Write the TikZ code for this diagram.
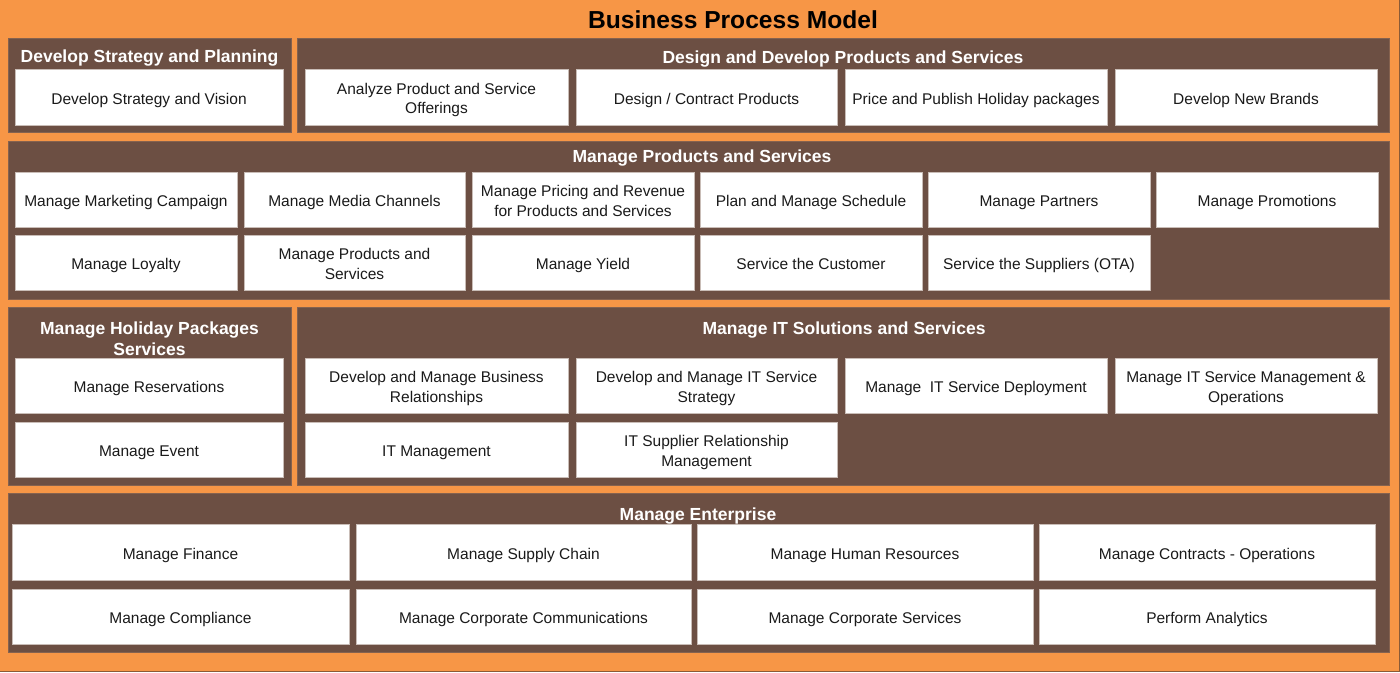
\documentclass[tikz,border=0pt]{standalone}
\usepackage{fontspec}
\setmainfont{Liberation Sans}
\definecolor{bgorange}{HTML}{F79646}
\definecolor{panelbrown}{HTML}{6C4F43}
\definecolor{paneledge}{HTML}{85624F}
\definecolor{boxedge}{HTML}{C9BDB7}
\definecolor{framedge}{HTML}{8A5A36}
\definecolor{tasktext}{HTML}{1A1A1A}

% struts fixing the first-line height and the last-line depth of task labels
\newcommand{\topstrut}{\rule{0pt}{18pt}}
\newcommand{\botstrut}{\rule[-4pt]{0pt}{4pt}}

\tikzset{
  panel/.style={fill=panelbrown, draw=paneledge, line width=0.8pt},
  paneltitle/.style={text=white, font=\bfseries\fontsize{17.5}{21.7}\selectfont, align=center, inner sep=0pt},
  task/.style={fill=white, draw=boxedge, line width=0.8pt, inner sep=0pt, outer sep=0pt,
    align=center, text=tasktext, font=\fontsize{15.5}{19.5}\selectfont},
}

% \procbox{name}{x1}{y1}{x2}{y2}{text}
\newcommand{\procbox}[6]{%
  \node[task, minimum width={#4pt-#2pt}, minimum height={#5pt-#3pt}]
    (#1) at ({(#2+#4)/2},{(#3+#5)/2}) {\topstrut#6\botstrut};}
% \procpanel{name}{x1}{y1}{x2}{y2}
\newcommand{\procpanel}[5]{%
  \path[panel] (#2,#3) rectangle (#4,#5);
  \coordinate (#1) at ({(#2+#4)/2},#3);}

\begin{document}
\begin{tikzpicture}[x=1pt, y=-1pt]
\useasboundingbox (0,0) rectangle (1400,672);
\fill[bgorange] (0,0) rectangle (1400,672);
\draw[framedge, line width=1.2pt] (1399.4,0) -- (1399.4,671.4) -- (0,671.4);

\node[font=\bfseries\fontsize{24.6}{28}\selectfont, text=black, inner sep=0pt, anchor=base] (title) at (733,28.5) {Business Process Model};

% Develop Strategy and Planning
\procpanel{pa}{8}{38}{291}{132}
\node[paneltitle, anchor=base] (pat) at (149.5,62.5) {Develop Strategy and Planning};
\procbox{a1}{15}{69}{283}{125}{Develop Strategy and Vision}

% Design and Develop Products and Services
\procpanel{pb}{297}{38}{1389}{132}
\node[paneltitle, anchor=base] (pbt) at (843,63) {Design and Develop Products and Services};
\procbox{b1}{305}{69}{568}{125}{Analyze Product and Service\\Offerings}
\procbox{b2}{576}{69}{837}{125}{Design / Contract Products}
\procbox{b3}{845}{69}{1107}{125}{Price and Publish Holiday packages}
\procbox{b4}{1115}{69}{1377}{125}{Develop New Brands}

% Manage Products and Services
\procpanel{pc}{8}{141}{1389}{299}
\node[paneltitle, anchor=base] (pct) at (702,162.5) {Manage Products and Services};
\procbox{c1}{15}{172}{237}{227}{Manage Marketing Campaign}
\procbox{c2}{244}{172}{465}{227}{Manage Media Channels}
\procbox{c3}{472}{172}{694}{227}{Manage Pricing and Revenue\\for Products and Services}
\procbox{c4}{700}{172}{922}{227}{Plan and Manage Schedule}
\procbox{c5}{928}{172}{1150}{227}{Manage Partners}
\procbox{c6}{1156}{172}{1378}{227}{Manage Promotions}
\procbox{c7}{15}{235}{237}{290}{Manage Loyalty}
\procbox{c8}{244}{235}{465}{290}{Manage Products and\\Services}
\procbox{c9}{472}{235}{694}{290}{Manage Yield}
\procbox{c10}{700}{235}{922}{290}{Service the Customer}
\procbox{c11}{928}{235}{1150}{290}{Service the Suppliers (OTA)}

% Manage Holiday Packages Services
\procpanel{pd}{8}{307}{291}{485}
\node[paneltitle, anchor=north] (pdt) at (149.5,321) {\rule{0pt}{13pt}Manage Holiday Packages\\Services};
\procbox{d1}{15}{358}{283}{413}{Manage Reservations}
\procbox{d2}{15}{422}{283}{477}{Manage Event}

% Manage IT Solutions and Services
\procpanel{pe}{297}{307}{1389}{485}
\node[paneltitle, anchor=base] (pet) at (844,334) {Manage IT Solutions and Services};
\procbox{e1}{305}{358}{568}{413}{Develop and Manage Business\\Relationships}
\procbox{e2}{576}{358}{837}{413}{Develop and Manage IT Service\\Strategy}
\procbox{e3}{845}{358}{1107}{413}{Manage\ \ IT Service Deployment}
\procbox{e4}{1115}{358}{1377}{413}{Manage IT Service Management \&\\Operations}
\procbox{e5}{305}{422}{568}{477}{IT Management}
\procbox{e6}{576}{422}{837}{477}{IT Supplier Relationship\\Management}

% Manage Enterprise
\procpanel{pf}{8}{493}{1389}{652}
\node[paneltitle, anchor=base] (pft) at (698,520) {Manage Enterprise};
\procbox{f1}{12}{524}{349}{580}{Manage Finance}
\procbox{f2}{356}{524}{691}{580}{Manage Supply Chain}
\procbox{f3}{697}{524}{1033}{580}{Manage Human Resources}
\procbox{f4}{1039}{524}{1375}{580}{Manage Contracts - Operations}
\procbox{f5}{12}{589}{349}{644}{Manage Compliance}
\procbox{f6}{356}{589}{691}{644}{Manage Corporate Communications}
\procbox{f7}{697}{589}{1033}{644}{Manage Corporate Services}
\procbox{f8}{1039}{589}{1375}{644}{Perform Analytics}
\end{tikzpicture}
\end{document}
